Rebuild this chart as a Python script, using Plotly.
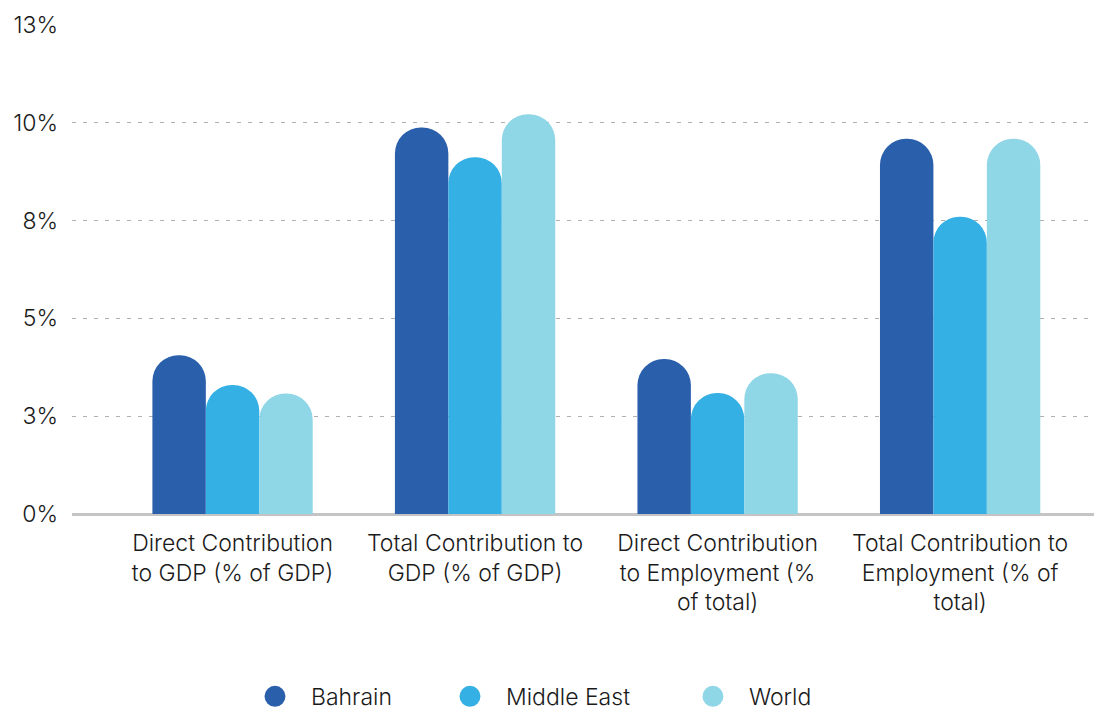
import plotly.graph_objects as go

categories = [
    "Direct Contribution<br>to GDP (% of GDP)",
    "Total Contribution to<br>GDP (% of GDP)",
    "Direct Contribution<br>to Employment (%<br>of total)",
    "Total Contribution to<br>Employment (% of<br>total)",
]
series_names = ["Bahrain", "Middle East", "World"]
bahrain = [4.06, 9.88, 3.96, 9.59]
middle_east = [3.30, 9.12, 3.09, 7.60]
world = [3.08, 10.22, 3.60, 9.59]
colors = ["#2A5FAC", "#34B0E4", "#8FD6E6"]

FONT = "Inter"
TXT = "#1a1a1a"
fig = go.Figure()
for name, vals, col in zip(series_names, [bahrain, middle_east, world], colors):
    fig.add_trace(go.Bar(
        x=categories, y=vals, name=name, showlegend=False,
        marker=dict(color=col, line=dict(width=0), cornerradius="50%"),
    ))

# legend entries (one legend per series so each can be placed like the original)
legend_x = [0.1634, 0.3542, 0.5919]
for i, (name, col) in enumerate(zip(series_names, colors)):
    lg = "legend" if i == 0 else f"legend{i+1}"
    fig.add_trace(go.Scatter(
        x=[None], y=[None], mode="markers", name=name, legend=lg,
        marker=dict(color=col, size=16, symbol="circle", line=dict(color=col, width=5)),
        showlegend=True,
    ))

legend_common = dict(orientation="h", xanchor="left", yanchor="middle",
                     xref="paper", yref="paper",
                     font=dict(family=FONT, size=23, color=TXT, weight=300),
                     bgcolor="rgba(0,0,0,0)", itemwidth=62)
layout_legends = {}
for i in range(3):
    key = "legend" if i == 0 else f"legend{i+1}"
    layout_legends[key] = dict(legend_common, x=legend_x[i], y=-0.373)

fig.update_layout(
    width=1094, height=711,
    margin=dict(l=72, r=0, t=25, b=197, autoexpand=False),
    plot_bgcolor="white", paper_bgcolor="white",
    barmode="group", bargap=0.339, bargroupgap=0,
    font=dict(family=FONT, size=20, color=TXT, weight=300),
    xaxis=dict(
        range=[-0.662, 3.552], showgrid=False, showline=False, zeroline=False,
        automargin=False,
        ticks="outside", ticklen=8, tickcolor="rgba(0,0,0,0)",
        tickfont=dict(family=FONT, size=23, color=TXT, weight=300),
    ),
    yaxis=dict(
        range=[0, 12.5], dtick=2.5, tick0=0, tickformat=".0f", ticksuffix="%",
        automargin=False,
        showgrid=True, gridcolor="#b0b0b0", griddash="4px,7px", gridwidth=1,
        zeroline=True, zerolinecolor="#c4c4c4", zerolinewidth=3,
        showline=False, ticks="", ticklabelstandoff=13,
        tickfont=dict(family=FONT, size=23, color=TXT, weight=300),
    ),
    **layout_legends,
)

fig.write_html("out.html", config={"displayModeBar": False},
               post_script="document.body.style.margin='0px';document.body.style.overflow='hidden';")
